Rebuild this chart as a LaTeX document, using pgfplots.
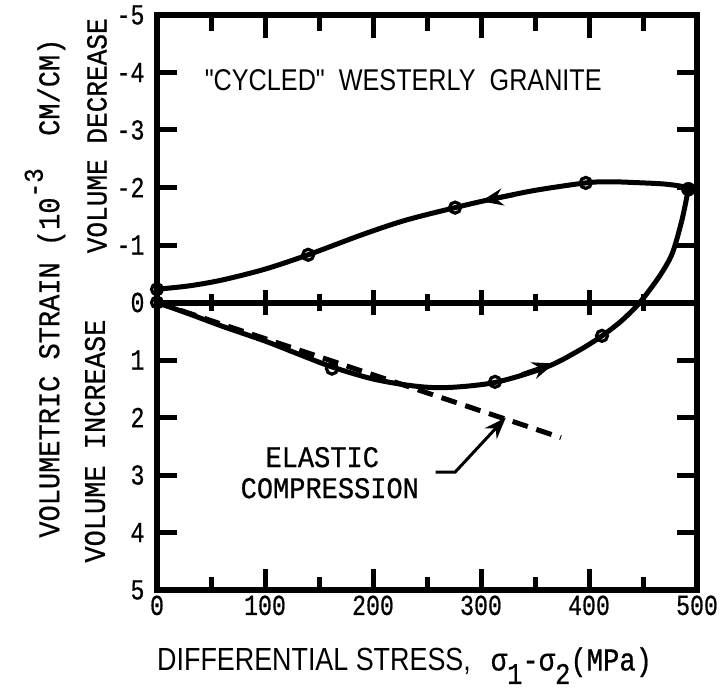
\documentclass[border=0pt]{standalone}
\usepackage{pgfplots}
\pgfplotsset{compat=1.18}
\usepackage{fontspec}
\usetikzlibrary{arrows.meta}
\setmainfont{Liberation Sans}
\newfontfamily\monofont[FakeStretch=0.8, FakeBold=0.6]{Liberation Mono}
\newfontfamily\labfont[FakeStretch=0.9, FakeBold=0.6]{Liberation Mono}
\newfontfamily\sigfont[FakeStretch=0.85, FakeBold=0.6]{Liberation Mono}
\newfontfamily\condsans[FakeStretch=0.84]{Liberation Sans}
\newcommand\tickfont{\monofont\fontsize{29}{31}\selectfont}

\begin{document}
\begin{tikzpicture}
\begin{axis}[
  scale only axis, width=540pt, height=575pt,
  xmin=0, xmax=500, ymin=-5, ymax=5, y dir=reverse,
  axis line style={line width=6pt},
  xtick={0,100,...,500}, minor xtick={50,150,...,450},
  xticklabels={0,100,200,300,400,500},
  ytick={-5,-4,...,5},
  yticklabels={-5,-4,-3,-2,-1,0,1,2,3,4,5},
  xtick pos=both, ytick pos=both,
  tick align=inside, major tick length=20pt, minor tick length=13pt,
  tick style={line width=5pt, black},
  ticklabel style={font=\tickfont},
  xticklabel style={yshift=-2pt},
  yticklabel style={xshift=-9pt},
  clip=false,
]
% loading curve
\addplot[line width=5pt, smooth] coordinates {
 (0,0) (30,0.2) (60,0.41) (100,0.67) (130,0.89) (162,1.12) (200,1.33) (237,1.45)
 (268,1.48) (313,1.39) (361,1.12) (392,0.82) (412,0.58) (430,0.32) (447,0)
 (465,-0.45) (477,-0.85) (486,-1.43) (492,-1.97)};
% unloading curve
\addplot[line width=5pt, smooth] coordinates {
 (492,-1.97) (486,-2.02) (470,-2.06) (450,-2.08) (420,-2.10) (397,-2.08)
 (350,-1.95) (308,-1.79) (276,-1.65) (230,-1.43) (190,-1.18) (140,-0.83)
 (100,-0.58) (60,-0.39) (30,-0.29) (0,-0.23)};
% elastic compression line
\addplot[line width=5pt, dash pattern=on 16pt off 9pt] coordinates {(0,0) (374,2.35)};
% data points
\addplot[only marks, mark=o, mark size=5.5pt, line width=3.2pt] coordinates {
 (0,-0.23) (140,-0.83) (276,-1.65) (397,-2.08) (0,0) (162,1.15) (313,1.38) (412,0.58)};
\addplot[only marks, mark=*, mark size=7pt] coordinates {(492,-1.97)};
% direction arrows
\draw[line width=4.5pt, -{Stealth[length=22pt, width=17pt]}] (axis cs:330,-1.87) -- (axis cs:300,-1.76);
\draw[line width=4.5pt, -{Stealth[length=22pt, width=17pt]}] (axis cs:338,1.25) -- (axis cs:368,1.06);
% annotation
\draw[line width=3pt, -{Stealth[length=22pt, width=16pt]}] (axis cs:258,2.95) -- (axis cs:276,2.95) -- (axis cs:323,2.0);
\node[font=\labfont\fontsize{30}{32}\selectfont] at (axis cs:153,2.69) {ELASTIC};
\node[font=\labfont\fontsize{30}{32}\selectfont] at (axis cs:160,3.23) {COMPRESSION};
\node[font=\condsans\fontsize{30}{32}\selectfont] at (axis cs:228,-3.87) {"CYCLED"\ \ WESTERLY\ \ GRANITE};
% axis labels
\node[rotate=90, font=\labfont\fontsize{30}{32}\selectfont] at (axis cs:-103.7,-0.25)
  {VOLUMETRIC STRAIN (10\raisebox{0.55em}{\fontsize{27}{28}\selectfont -3}\ \ CM/CM)};
\node[rotate=90, font=\labfont\fontsize{29}{31}\selectfont] at (axis cs:-55.6,-2.9) {VOLUME DECREASE};
\node[rotate=90, font=\labfont\fontsize{30}{32}\selectfont] at (axis cs:-57.4,2.41) {VOLUME INCREASE};
\node[anchor=base west, inner sep=0pt] at (axis cs:0,6.40)
  {{\condsans\fontsize{32}{34}\selectfont DIFFERENTIAL STRESS,}\hspace{20pt}{\sigfont\fontsize{32}{34}\selectfont σ\raisebox{-0.42em}{\fontsize{30}{32}\selectfont 1}-σ\raisebox{-0.42em}{\fontsize{30}{32}\selectfont 2}(MPa)}};
% frame and zero line
\draw[line width=6pt] (axis cs:0,-5) rectangle (axis cs:500,5);
\draw[line width=6pt] (axis cs:0,0) -- (axis cs:500,0);
% y tick marks, left and right
\draw[line width=5pt]
  (axis cs:0,-4) -- (axis cs:17,-4) (axis cs:0,-3) -- (axis cs:17,-3)
  (axis cs:0,-2) -- (axis cs:17,-2) (axis cs:0,-1) -- (axis cs:17,-1)
  (axis cs:0,1) -- (axis cs:17,1) (axis cs:0,2) -- (axis cs:17,2)
  (axis cs:0,3) -- (axis cs:17,3) (axis cs:0,4) -- (axis cs:17,4)
  (axis cs:500,-4) -- (axis cs:483,-4) (axis cs:500,-3) -- (axis cs:483,-3)
  (axis cs:500,-2) -- (axis cs:483,-2) (axis cs:500,-1) -- (axis cs:483,-1)
  (axis cs:500,1) -- (axis cs:483,1) (axis cs:500,2) -- (axis cs:483,2)
  (axis cs:500,3) -- (axis cs:483,3) (axis cs:500,4) -- (axis cs:483,4);
% x tick marks: top, zero line, bottom
\draw[line width=5pt]
  (axis cs:100,-5) -- (axis cs:100,-4.6) (axis cs:200,-5) -- (axis cs:200,-4.6)
  (axis cs:300,-5) -- (axis cs:300,-4.6) (axis cs:400,-5) -- (axis cs:400,-4.6)
  (axis cs:50,-5) -- (axis cs:50,-4.73) (axis cs:150,-5) -- (axis cs:150,-4.73)
  (axis cs:250,-5) -- (axis cs:250,-4.73) (axis cs:350,-5) -- (axis cs:350,-4.73)
  (axis cs:450,-5) -- (axis cs:450,-4.73)
  (axis cs:100,5) -- (axis cs:100,4.64) (axis cs:200,5) -- (axis cs:200,4.64)
  (axis cs:300,5) -- (axis cs:300,4.64) (axis cs:400,5) -- (axis cs:400,4.64)
  (axis cs:50,5) -- (axis cs:50,4.79) (axis cs:150,5) -- (axis cs:150,4.79)
  (axis cs:250,5) -- (axis cs:250,4.79) (axis cs:350,5) -- (axis cs:350,4.79)
  (axis cs:450,5) -- (axis cs:450,4.79)
  (axis cs:100,-0.22) -- (axis cs:100,0.22) (axis cs:200,-0.22) -- (axis cs:200,0.22)
  (axis cs:300,-0.22) -- (axis cs:300,0.22) (axis cs:400,-0.22) -- (axis cs:400,0.22)
  (axis cs:50,-0.14) -- (axis cs:50,0.14) (axis cs:150,-0.14) -- (axis cs:150,0.14)
  (axis cs:250,-0.14) -- (axis cs:250,0.14) (axis cs:350,-0.14) -- (axis cs:350,0.14)
  (axis cs:450,-0.14) -- (axis cs:450,0.14);
\coordinate (BL) at (axis cs:0,5);
\coordinate (TR) at (axis cs:500,-5);
\end{axis}
\path (BL) ++(-157pt,-104pt) coordinate (A);
\path (TR) ++(29pt,15pt) coordinate (B);
\path (A) rectangle (B);
\end{tikzpicture}
\end{document}
